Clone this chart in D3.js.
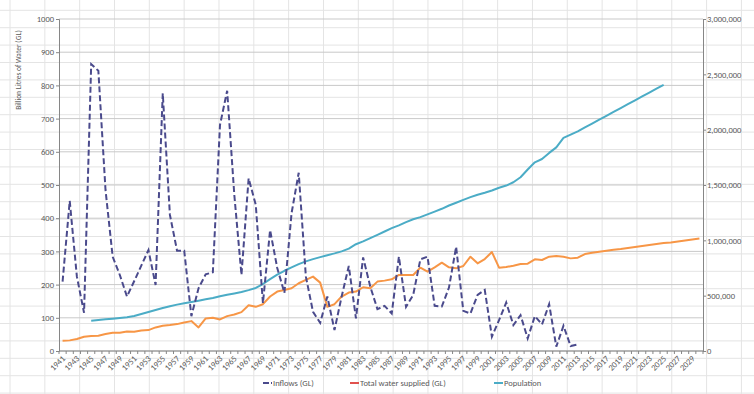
<!DOCTYPE html>
<html><head><meta charset="utf-8">
<script src="https://cdn.jsdelivr.net/npm/d3@7"></script>
<style>body{margin:0;background:#fff}svg{display:block}text{font-family:Carlito,Calibri,Lato,"Open Sans",sans-serif;fill:#595959}</style>
</head><body><svg id="c" width="754" height="394"></svg>
<script>
const firstYear = 1941, lastYear = 2030;
const years = d3.range(firstYear, lastYear + 1);
const leftTicks = [0,100,200,300,400,500,600,700,800,900,1000];
const rightTicks = [0,500000,1000000,1500000,2000000,2500000,3000000];

const inflowStart = 1941;
const inflows = [209,452,224,115,864,844,485,284,229,164,
 210,257,304,199,776,410,302,302,105,189,
 231,237,681,784,470,229,520,440,144,364,
 250,175,415,537,224,118,85,164,63,164,
 256,98,282,194,126,136,113,284,133,169,
 276,284,136,134,191,314,121,113,169,184,
 43,93,146,78,108,38,105,80,141,13,
 76,15,20];

const supplyStart = 1941;
const supplied = [31,32,36,43,45,46,51,55,55,59,
 58,62,63,71,76,78,81,86,90,71,
 98,100,95,105,110,117,138,133,141,164,
 179,184,189,204,214,224,206,133,141,164,
 176,179,192,189,209,212,216,229,229,229,
 251,239,252,266,252,249,256,284,264,277,
 298,251,253,257,262,263,276,274,284,286,
 284,279,281,292,296,299,302,305,307,310,
 313,316,319,322,325,327,330,333,336,339];

const popStart = 1945;
const population = [274,280,286,292,298,304,
 316,334,352,370,389,404,419,431,443,455,
 467,479,494,508,520,533,550,570,605,650,
 690,725,755,785,810,830,848,866,882,900,
 925,965,990,1020,1050,1080,1110,1135,1165,1190,
 1210,1235,1260,1285,1315,1340,1365,1390,1412,1430,
 1450,1475,1495,1525,1570,1640,1705,1735,1790,1840,
 1925,1955,1985,2020,2055,2090,2125,2160,2195,2230,
 2265,2300,2335,2370,2404].map(v => v * 1000);

const seriesNames = ["Inflows (GL)", "Total water supplied (GL)", "Population"];

const svg = d3.select("#c");
const L = 59, R = 703, T = 19, B = 351;

// spreadsheet cell lines
const sheet = svg.append("g");
for (let k = 0; k <= 22; k++) {
  const x = 10 + k * 34.83;
  sheet.append("line").attr("x1", x).attr("x2", x).attr("y1", 0).attr("y2", 394).attr("stroke", "#e4e4e4");
}
for (let k = -2; k <= 22; k++) {
  const y = 358.3 - k * 17.4;
  sheet.append("line").attr("x1", 0).attr("x2", 754).attr("y1", y).attr("y2", y).attr("stroke", "#e4e4e4");
}

const x = d3.scaleBand().domain(years).range([L, R]).padding(0);
const cx = yr => x(yr) + x.bandwidth() / 2;
const yL = d3.scaleLinear().domain([0, 1000]).range([B, T]);
const yR = d3.scaleLinear().domain([0, 3000000]).range([B, T]);

// gridlines
svg.append("g").selectAll("line").data(leftTicks).join("line")
  .attr("x1", L).attr("x2", R).attr("y1", d => yL(d)).attr("y2", d => yL(d))
  .attr("stroke", "#c9c9c9");

// left axis
const la = svg.append("g").attr("transform", `translate(${L},0)`)
  .call(d3.axisLeft(yL).tickValues(leftTicks).tickSize(3).tickPadding(2).tickFormat(d3.format("d")));
la.select(".domain").attr("stroke", "#868686");
la.selectAll(".tick line").attr("stroke", "#868686");
la.selectAll(".tick text").attr("font-size", "8.5px").attr("fill", "#595959").style("font-family", null);

// right axis
const ra = svg.append("g").attr("transform", `translate(${R},0)`)
  .call(d3.axisRight(yR).tickValues(rightTicks).tickSize(3).tickPadding(1).tickFormat(d3.format(",")));
ra.select(".domain").attr("stroke", "#868686");
ra.selectAll(".tick line").attr("stroke", "#868686");
ra.selectAll(".tick text").attr("font-size", "8.5px").attr("fill", "#595959");

// bottom axis (ticks between categories)
const ba = svg.append("g");
ba.append("line").attr("x1", L).attr("x2", R).attr("y1", B).attr("y2", B).attr("stroke", "#868686");
ba.selectAll("line.t").data(years.concat([null])).join("line").attr("class", "t")
  .attr("x1", d => d === null ? R : x(d)).attr("x2", d => d === null ? R : x(d))
  .attr("y1", B).attr("y2", B + 3).attr("stroke", "#868686");
ba.selectAll("text").data(years.filter((d, i) => i % 2 === 0)).join("text")
  .attr("transform", d => `translate(${cx(d) + 1},${B + 6}) rotate(-45)`)
  .attr("text-anchor", "end").attr("dy", "0.35em").attr("font-size", "8.5px").text(d => d);

// axis title
svg.append("text").attr("transform", "translate(21,70) rotate(-90)")
  .attr("text-anchor", "middle").attr("font-size", "7.5px").attr("fill", "#404040")
  .text("Billion Litres of Water (GL)");

// lines
const mk = (arr, start) => arr.map((v, i) => ({yr: start + i, v}));
const lineL = d3.line().x(d => cx(d.yr)).y(d => yL(d.v));
const lineR = d3.line().x(d => cx(d.yr)).y(d => yR(d.v));

svg.append("path").datum(mk(population, popStart)).attr("d", lineR)
  .attr("fill", "none").attr("stroke", "#4bacc6").attr("stroke-width", 2).attr("stroke-linejoin", "round");
svg.append("path").datum(mk(supplied, supplyStart)).attr("d", lineL)
  .attr("fill", "none").attr("stroke", "#f79646").attr("stroke-width", 2).attr("stroke-linejoin", "round");
svg.append("path").datum(mk(inflows, inflowStart)).attr("d", lineL)
  .attr("fill", "none").attr("stroke", "#4a4a8c").attr("stroke-width", 2).attr("stroke-dasharray", "6,3");

// legend
const leg = [
  {name: seriesNames[0], x: 263, color: "#4a4a8c", dash: "6,2"},
  {name: seriesNames[1], x: 350, color: "#e0514d", dash: null},
  {name: seriesNames[2], x: 494, color: "#4bacc6", dash: null}
];
const lg = svg.append("g").selectAll("g").data(leg).join("g");
lg.append("line").attr("x1", d => d.x).attr("x2", d => d.x + 9).attr("y1", 383).attr("y2", 383)
  .attr("stroke", d => d.color).attr("stroke-width", 2).attr("stroke-dasharray", d => d.dash);
lg.append("text").attr("x", d => d.x + 10).attr("y", 383).attr("dy", "0.35em")
  .attr("font-size", "8.5px").text(d => d.name);
</script></body></html>
